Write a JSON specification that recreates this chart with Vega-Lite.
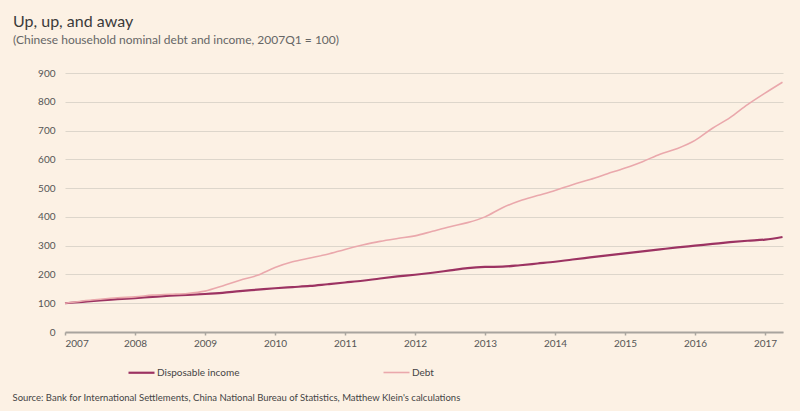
{
  "$schema": "https://vega.github.io/schema/vega-lite/v6.json",
  "width": 718,
  "height": 259,
  "autosize": "none",
  "padding": {"left": 65, "top": 73, "right": 17, "bottom": 79},
  "background": "#fcf1e4",
  "config": {
    "view": {"stroke": null},
    "font": "Lato"
  },
  "title": {
    "text": "Up, up, and away",
    "subtitle": "(Chinese household nominal debt and income, 2007Q1 = 100)",
    "anchor": "start",
    "frame": "group",
    "dx": -52,
    "offset": 22,
    "font": "Lato",
    "fontSize": 16,
    "fontWeight": "normal",
    "color": "#3a3a3a",
    "subtitleFont": "Lato",
    "subtitleFontSize": 12,
    "subtitleColor": "#666666",
    "subtitlePadding": 5
  },
  "data": {
    "values": [
      {"t": 2007.00, "series": "Disposable income", "v": 100},
      {"t": 2007.25, "series": "Disposable income", "v": 105},
      {"t": 2007.50, "series": "Disposable income", "v": 110},
      {"t": 2007.75, "series": "Disposable income", "v": 114},
      {"t": 2008.00, "series": "Disposable income", "v": 118},
      {"t": 2008.25, "series": "Disposable income", "v": 122},
      {"t": 2008.50, "series": "Disposable income", "v": 126},
      {"t": 2008.75, "series": "Disposable income", "v": 129},
      {"t": 2009.00, "series": "Disposable income", "v": 132},
      {"t": 2009.25, "series": "Disposable income", "v": 136},
      {"t": 2009.50, "series": "Disposable income", "v": 142},
      {"t": 2009.75, "series": "Disposable income", "v": 147},
      {"t": 2010.00, "series": "Disposable income", "v": 152},
      {"t": 2010.25, "series": "Disposable income", "v": 156},
      {"t": 2010.50, "series": "Disposable income", "v": 160},
      {"t": 2010.75, "series": "Disposable income", "v": 166},
      {"t": 2011.00, "series": "Disposable income", "v": 172},
      {"t": 2011.25, "series": "Disposable income", "v": 178},
      {"t": 2011.50, "series": "Disposable income", "v": 186},
      {"t": 2011.75, "series": "Disposable income", "v": 193},
      {"t": 2012.00, "series": "Disposable income", "v": 199},
      {"t": 2012.25, "series": "Disposable income", "v": 206},
      {"t": 2012.50, "series": "Disposable income", "v": 214},
      {"t": 2012.75, "series": "Disposable income", "v": 222},
      {"t": 2013.00, "series": "Disposable income", "v": 226},
      {"t": 2013.25, "series": "Disposable income", "v": 227},
      {"t": 2013.50, "series": "Disposable income", "v": 232},
      {"t": 2013.75, "series": "Disposable income", "v": 238},
      {"t": 2014.00, "series": "Disposable income", "v": 244},
      {"t": 2014.25, "series": "Disposable income", "v": 252},
      {"t": 2014.50, "series": "Disposable income", "v": 259},
      {"t": 2014.75, "series": "Disposable income", "v": 266},
      {"t": 2015.00, "series": "Disposable income", "v": 273},
      {"t": 2015.25, "series": "Disposable income", "v": 280},
      {"t": 2015.50, "series": "Disposable income", "v": 287},
      {"t": 2015.75, "series": "Disposable income", "v": 294},
      {"t": 2016.00, "series": "Disposable income", "v": 300},
      {"t": 2016.25, "series": "Disposable income", "v": 306},
      {"t": 2016.50, "series": "Disposable income", "v": 312},
      {"t": 2016.75, "series": "Disposable income", "v": 317},
      {"t": 2017.00, "series": "Disposable income", "v": 321},
      {"t": 2017.25, "series": "Disposable income", "v": 330},
      {"t": 2007.00, "series": "Debt", "v": 100},
      {"t": 2007.25, "series": "Debt", "v": 108},
      {"t": 2007.50, "series": "Debt", "v": 114},
      {"t": 2007.75, "series": "Debt", "v": 119},
      {"t": 2008.00, "series": "Debt", "v": 122},
      {"t": 2008.25, "series": "Debt", "v": 128},
      {"t": 2008.50, "series": "Debt", "v": 131},
      {"t": 2008.75, "series": "Debt", "v": 134},
      {"t": 2009.00, "series": "Debt", "v": 142},
      {"t": 2009.25, "series": "Debt", "v": 160},
      {"t": 2009.50, "series": "Debt", "v": 180},
      {"t": 2009.75, "series": "Debt", "v": 197},
      {"t": 2010.00, "series": "Debt", "v": 224},
      {"t": 2010.25, "series": "Debt", "v": 244},
      {"t": 2010.50, "series": "Debt", "v": 257},
      {"t": 2010.75, "series": "Debt", "v": 270},
      {"t": 2011.00, "series": "Debt", "v": 287},
      {"t": 2011.25, "series": "Debt", "v": 302},
      {"t": 2011.50, "series": "Debt", "v": 315},
      {"t": 2011.75, "series": "Debt", "v": 325},
      {"t": 2012.00, "series": "Debt", "v": 334},
      {"t": 2012.25, "series": "Debt", "v": 350},
      {"t": 2012.50, "series": "Debt", "v": 366},
      {"t": 2012.75, "series": "Debt", "v": 380},
      {"t": 2013.00, "series": "Debt", "v": 400},
      {"t": 2013.25, "series": "Debt", "v": 432},
      {"t": 2013.50, "series": "Debt", "v": 456},
      {"t": 2013.75, "series": "Debt", "v": 474},
      {"t": 2014.00, "series": "Debt", "v": 492},
      {"t": 2014.25, "series": "Debt", "v": 512},
      {"t": 2014.50, "series": "Debt", "v": 530},
      {"t": 2014.75, "series": "Debt", "v": 550},
      {"t": 2015.00, "series": "Debt", "v": 570},
      {"t": 2015.25, "series": "Debt", "v": 592},
      {"t": 2015.50, "series": "Debt", "v": 618},
      {"t": 2015.75, "series": "Debt", "v": 638},
      {"t": 2016.00, "series": "Debt", "v": 666},
      {"t": 2016.25, "series": "Debt", "v": 708},
      {"t": 2016.50, "series": "Debt", "v": 745},
      {"t": 2016.75, "series": "Debt", "v": 790},
      {"t": 2017.00, "series": "Debt", "v": 830},
      {"t": 2017.25, "series": "Debt", "v": 868}
    ]
  },
  "mark": {"type": "line", "interpolate": "monotone"},
  "encoding": {
    "x": {
      "field": "t",
      "type": "quantitative",
      "scale": {"domain": [2007, 2017.257], "nice": false, "zero": false},
      "axis": {
        "values": [2007, 2008, 2009, 2010, 2011, 2012, 2013, 2014, 2015, 2016, 2017],
        "format": "d",
        "grid": false,
        "domainColor": "#a8a49e",
        "domainWidth": 2,
        "tickColor": "#a8a49e",
        "tickSize": 3,
        "tickWidth": 1.5,
        "labelFont": "Lato",
        "labelFontSize": 10,
        "labelColor": "#555555",
        "labelPadding": 3,
        "title": "Source: Bank for International Settlements, China National Bureau of Statistics, Matthew Klein's calculations",
        "titleFont": "Lato",
        "titleFontSize": 9.5,
        "titleFontWeight": "normal",
        "titleColor": "#444444",
        "titleAnchor": "start",
        "titleAlign": "left",
        "titleBaseline": "alphabetic",
        "titleX": -53,
        "titleY": 68
      }
    },
    "y": {
      "field": "v",
      "type": "quantitative",
      "scale": {"domain": [0, 900], "nice": false},
      "axis": {
        "values": [0, 100, 200, 300, 400, 500, 600, 700, 800, 900],
        "domain": false,
        "ticks": false,
        "grid": true,
        "gridColor": "#ddd6cb",
        "gridWidth": 1,
        "labelFont": "Lato",
        "labelFontSize": 10,
        "labelColor": "#555555",
        "labelPadding": 10,
        "title": null
      }
    },
    "color": {
      "field": "series",
      "type": "nominal",
      "scale": {"domain": ["Disposable income", "Debt"], "range": ["#9c3362", "#eaa8ac"]},
      "legend": {
        "title": null,
        "orient": "none",
        "legendX": 62,
        "legendY": 285,
        "direction": "horizontal",
        "columns": 2,
        "columnPadding": 140,
        "symbolType": "stroke",
        "symbolSize": 676,
        "symbolStrokeWidth": 2.5,
        "labelFont": "Lato",
        "labelFontSize": 10,
        "labelColor": "#444444",
        "labelOffset": 1
      }
    },
    "strokeWidth": {
      "field": "series",
      "type": "nominal",
      "scale": {"domain": ["Disposable income", "Debt"], "range": [2.2, 1.6]},
      "legend": null
    }
  }
}
